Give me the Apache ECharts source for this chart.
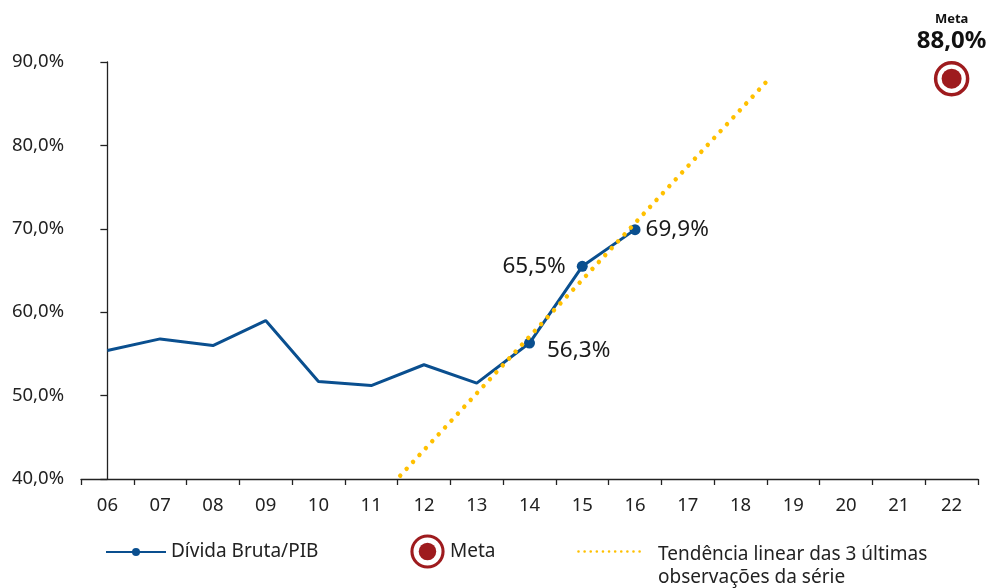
<!DOCTYPE html>
<html>
<head>
<meta charset="utf-8">
<title>Dívida Bruta/PIB</title>
<script src="https://cdn.jsdelivr.net/npm/echarts@6/dist/echarts.min.js"></script>
<style>
  html, body { margin: 0; padding: 0; background: #fff; }
  #chart { width: 986px; height: 588px; }
</style>
</head>
<body>
<div id="chart"></div>
<script>
// anos (eixo x)
const categories = ['06', '07', '08', '09', '10', '11', '12', '13', '14', '15', '16', '17', '18', '19', '20', '21', '22']
// Dívida Bruta/PIB (%)
const dividaValues = [55.4, 56.8, 56.0, 59.0, 51.7, 51.2, 53.7, 51.5, 56.3, 65.5, 69.9]
// pontos com marcador e rótulo
const labeledIdx = [8, 9, 10]
// tendência linear das 3 últimas observações (posição no eixo, valor)
const trendX = [5.55, 12.5]
const trendY = [40.4, 87.7]
// meta
const metaCategory = '22'
const metaValue = 88.0

const BLUE = '#0a4f8f'
const YELLOW = '#ffc000'
const RED = '#9e1b1e'
const FONT = '"Noto Sans", "Open Sans", sans-serif'

const pct = v => v.toFixed(1).replace('.', ',') + '%'

const svgUrl = s => 'image://data:image/svg+xml;charset=utf-8,' + encodeURIComponent(s)
const metaIcon = svgUrl(
  '<svg xmlns="http://www.w3.org/2000/svg" width="36" height="36" viewBox="0 0 36 36">' +
  '<circle cx="18" cy="18" r="16" fill="#fff" stroke="' + RED + '" stroke-width="3.2"/>' +
  '<circle cx="18" cy="18" r="9" fill="' + RED + '"/></svg>'
)
const trendIcon = svgUrl(
  '<svg xmlns="http://www.w3.org/2000/svg" width="76" height="10" viewBox="0 0 76 10">' +
  '<line x1="1.5" y1="2" x2="63" y2="2" stroke="' + YELLOW + '" stroke-width="2.6" ' +
  'stroke-linecap="round" stroke-dasharray="0.01 6.1"/></svg>'
)

// label positions for the last three points
const labelCfg = {
  8: { position: 'right', distance: 12, offset: [0, 8] },
  9: { position: 'left', distance: 11 },
  10: { position: 'right', distance: 5 }
}

const dividaData = dividaValues.map((v, i) => {
  if (labeledIdx.indexOf(i) < 0) {
    return { value: v, symbol: 'none' }
  }
  return {
    value: v,
    label: Object.assign({ show: true }, labelCfg[i])
  }
})

const chart = echarts.init(document.getElementById('chart'))

const legendText = {
  fontFamily: FONT,
  fontSize: 19,
  color: '#222',
  lineHeight: 22
}

const option = {
  animation: false,
  backgroundColor: '#fff',
  textStyle: { fontFamily: FONT },
  grid: {
    left: 81,
    right: 8,
    top: 62,
    bottom: 109,
    containLabel: false,
    outerBoundsMode: 'none'
  },
  legend: [
    {
      data: ['Dívida Bruta/PIB'],
      left: 105,
      top: 541,
      padding: 0,
      itemWidth: 60,
      itemHeight: 10,
      selectedMode: false,
      textStyle: legendText
    },
    {
      data: [{ name: 'Meta', icon: metaIcon }],
      left: 410,
      top: 534,
      padding: 0,
      itemWidth: 35,
      itemHeight: 35,
      selectedMode: false,
      textStyle: legendText
    },
    {
      data: [{ name: 'trend', icon: trendIcon }],
      left: 577,
      top: 520,
      padding: 0,
      itemWidth: 76,
      itemHeight: 10,
      selectedMode: false,
      formatter: () => '\nTendência linear das 3 últimas\nobservações da série',
      textStyle: Object.assign({}, legendText, { lineHeight: 23 })
    }
  ],
  xAxis: [
    {
      type: 'category',
      data: categories,
      boundaryGap: true,
      axisLine: { show: true, lineStyle: { color: '#222', width: 1.3 } },
      axisTick: { show: true, length: 6, lineStyle: { color: '#222', width: 1.3 } },
      axisLabel: {
        margin: 17,
        fontSize: 18.5,
        color: '#222',
        fontFamily: FONT
      },
      splitLine: { show: false }
    },
    {
      type: 'value',
      min: -0.5,
      max: 16.5,
      show: false
    }
  ],
  yAxis: {
    type: 'value',
    min: 40,
    max: 90,
    interval: 10,
    axisLine: { show: true, lineStyle: { color: '#222', width: 1.3 } },
    axisTick: { show: true, inside: false, length: 7, lineStyle: { color: '#222', width: 1.3 } },
    axisLabel: {
      margin: 17,
      fontSize: 18.5,
      color: '#222',
      fontFamily: FONT,
      formatter: v => pct(v)
    },
    splitLine: { show: false }
  },
  series: [
    {
      name: 'trend',
      type: 'line',
      xAxisIndex: 1,
      symbol: 'none',
      silent: true,
      z: 3,
      data: trendX.map((x, i) => [x, trendY[i]]),
      lineStyle: {
        color: YELLOW,
        width: 4.5,
        type: [0.01, 9.4],
        cap: 'round'
      },
      itemStyle: { color: YELLOW }
    },
    {
      name: 'Dívida Bruta/PIB',
      type: 'line',
      z: 2,
      symbol: 'circle',
      symbolSize: 11,
      showSymbol: true,
      data: dividaData,
      lineStyle: { color: BLUE, width: 3 },
      itemStyle: { color: BLUE },
      label: {
        show: false,
        fontSize: 22.5,
        color: '#1a1a1a',
        fontFamily: FONT,
        formatter: p => pct(p.value)
      }
    },
    {
      name: 'Meta',
      type: 'scatter',
      symbol: 'circle',
      symbolSize: 32,
      data: [[metaCategory, metaValue]],
      itemStyle: { color: '#fff', borderColor: RED, borderWidth: 3.5, opacity: 1 },
      label: {
        show: true,
        position: 'top',
        distance: 7,
        formatter: p => '{a|Meta}\n{b|' + pct(p.value[1]) + '}',
        rich: {
          a: { fontSize: 13, fontWeight: 'bold', color: '#111', lineHeight: 18, fontFamily: FONT, align: 'center' },
          b: { fontSize: 24, fontWeight: 'bold', color: '#111', lineHeight: 26, fontFamily: FONT, align: 'center' }
        }
      }
    },
    {
      name: 'Meta',
      type: 'scatter',
      symbol: 'circle',
      symbolSize: 20,
      data: [[metaCategory, metaValue]],
      itemStyle: { color: RED, opacity: 1 }
    }
  ]
}

chart.setOption(option, true)
</script>
</body>
</html>
